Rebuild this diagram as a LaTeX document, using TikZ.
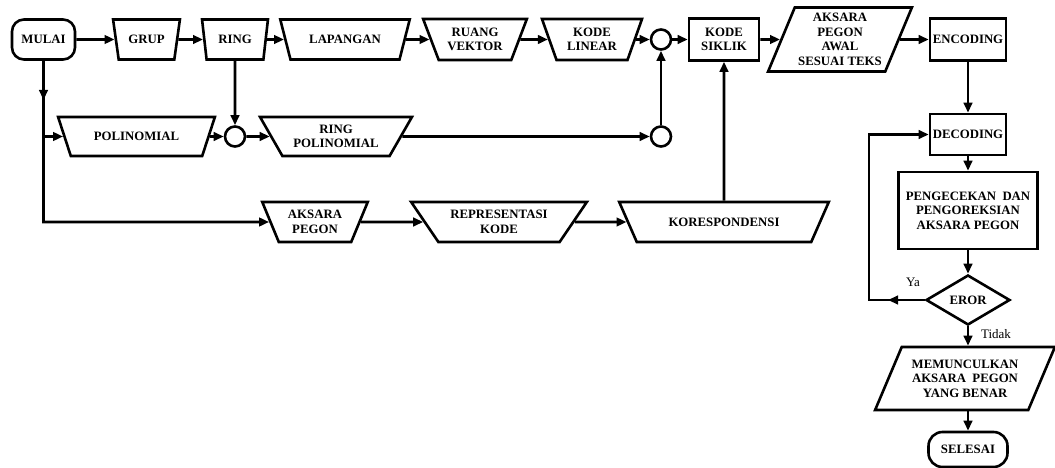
\documentclass[tikz,border=0pt]{standalone}
\usepackage{fontspec}
\setmainfont{Liberation Serif}
\usetikzlibrary{shapes.geometric,arrows.meta}
\begin{document}
\begin{tikzpicture}[x=1pt,y=-1pt,
  lw/.style={line width=2.6pt},
  txt/.style={font=\bfseries\fontsize{12.8}{14.5}\selectfont, align=center},
  box/.style={txt, draw, lw, fill=white, rectangle, inner sep=1pt},
  trap/.style={txt, draw, lw, fill=white, trapezium, trapezium stretches=true, shape border rotate=180, trapezium angle=#1, minimum height=40pt, inner sep=1pt},
  para/.style={txt, draw, lw, fill=white, trapezium, trapezium stretches=true, inner sep=1pt},
  term/.style={box, rounded corners=12pt},
  junc/.style={draw, lw, circle, minimum size=20pt, inner sep=0pt, fill=white},
  arr/.style={lw, -{Triangle[length=10pt,width=8.5pt]}},
  lbl/.style={font=\fontsize{13}{14}\selectfont}
]
\useasboundingbox (0,0) rectangle (1055,468);

% row 1
\node[term, minimum width=63pt, minimum height=40pt] (mulai) at (43.5,39.5) {MULAI};
\node[trap=70, minimum width=67pt] (grup) at (146.5,39.5) {GRUP};
\node[trap=75, minimum width=66pt] (ring) at (235,39.5) {RING};
\node[trap=57, minimum width=130pt] (lap) at (345,39.5) {LAPANGAN};
\node[trap=64, minimum width=104pt, minimum height=41pt] (rv) at (475,39.5) {RUANG\\VEKTOR};
\node[trap=67, minimum width=100pt, minimum height=41pt] (kl) at (592,39.5) {KODE\\LINEAR};
\node[junc] (c2) at (661,39.5) {};
\node[box, minimum width=70pt, minimum height=42pt] (ks) at (724,39.5) {KODE\\SIKLIK};
\node[para, trapezium left angle=65, trapezium right angle=115, minimum width=144pt, minimum height=64pt] (aawal) at (840,39.5) {AKSARA\\PEGON\\AWAL\\SESUAI TEKS};
\node[box, minimum width=76pt, minimum height=42pt] (enc) at (968,39.5) {ENCODING};

% right column
\node[box, minimum width=76pt, minimum height=41pt] (dec) at (968,134.5) {DECODING};
\node[box, minimum width=139pt, minimum height=77pt] (cek) at (968,210.5) {PENGECEKAN~ DAN\\PENGOREKSIAN\\AKSARA PEGON};
\node[txt, draw, lw, fill=white, diamond, minimum width=84pt, minimum height=50pt, inner sep=0pt] (eror) at (968,300) {EROR};
\node[para, trapezium left angle=60, trapezium right angle=120, minimum width=180pt, minimum height=63pt] (memu) at (965,378.5) {MEMUNCULKAN\\AKSARA~ PEGON\\YANG BENAR};
\node[term, minimum width=79pt, minimum height=35pt, rounded corners=14pt] (sel) at (968,449.5) {SELESAI};
\node[lbl] (ya) at (913,282) {Ya};
\node[lbl] (tidak) at (996,334) {Tidak};

% row 2
\node[trap=51.5, minimum width=157pt, minimum height=39pt] (pol) at (136.5,136.5) {POLINOMIAL};
\node[junc] (c1) at (235,136.5) {};
\node[trap=54, minimum width=152pt, minimum height=39pt] (rpol) at (336,136.5) {RING\\POLINOMIAL};
\node[junc] (c3) at (661,136.5) {};

% row 3
\node[trap=63, minimum width=106pt] (apeg) at (315,222) {AKSARA\\PEGON};
\node[trap=48.4, minimum width=176pt] (rep) at (499,222) {REPRESENTASI\\KODE};
\node[trap=43, minimum width=210pt] (kor) at (724,222) {KORESPONDENSI};

% connectors
\draw[arr] (mulai) -- (grup);
\draw[arr] (grup) -- (ring);
\draw[arr] (ring) -- (lap);
\draw[arr] (lap) -- (rv);
\draw[arr] (rv) -- (kl);
\draw[arr] (kl) -- (c2);
\draw[arr] (c2) -- (ks);
\draw[arr] (ks) -- (aawal);
\draw[arr] (aawal) -- (enc);
\draw[arr] (enc) -- (dec);
\draw[arr] (dec) -- (cek);
\draw[arr] (cek) -- (eror);
\draw[arr] (eror) -- (eror |- memu.north);
\draw[arr] (memu.south -| sel) -- (sel);

\coordinate (lp) at (869,300);
\coordinate (yaarr) at (888,300);
\draw[arr] (eror) -- (lp) |- (dec);
\draw[arr] (eror) -- (yaarr);

\coordinate (m1) at (43.5,100);
\draw[arr] (mulai) -- (m1);
\draw[arr] (mulai) -- (mulai |- apeg) -- (apeg);
\draw[arr] (mulai |- pol) -- (pol);

\draw[arr] (ring) -- (c1);
\draw[arr] (pol) -- (c1);
\draw[arr] (c1) -- (rpol);
\draw[arr] (rpol) -- (c3);
\draw[arr] (c3) -- (c2);
\draw[arr] (apeg) -- (rep);
\draw[arr] (rep) -- (kor);
\draw[arr] (kor) -- (ks);
\end{tikzpicture}
\end{document}
